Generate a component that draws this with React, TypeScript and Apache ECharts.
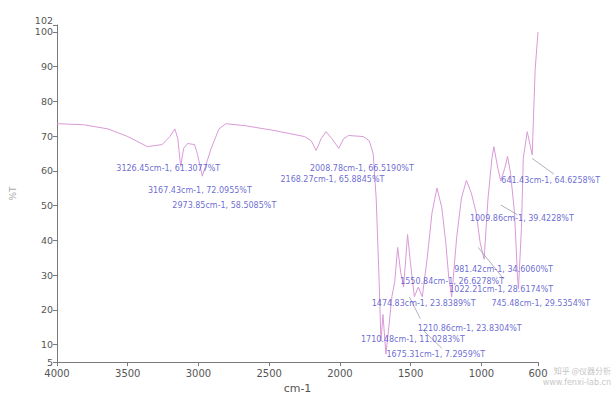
import { useEffect, useRef } from "react";
import * as echarts from "echarts";

// Spectrum (wavenumber cm-1, %T)
const wavenumbers = [
  4000, 3813, 3639, 3500, 3361, 3257, 3202, 3167, 3146, 3126, 3105, 3077, 3028, 3008, 2973, 2910,
  2855, 2806, 2667, 2459, 2251, 2203, 2168, 2133, 2098, 2057, 2008, 1974, 1939, 1835, 1793, 1765,
  1744, 1724, 1710, 1696, 1675, 1654, 1633, 1613, 1592, 1571, 1550, 1522, 1502, 1474, 1446, 1418,
  1384, 1349, 1314, 1280, 1252, 1231, 1210, 1175, 1141, 1106, 1071, 1037, 1009, 981, 953, 926,
  912, 884, 863, 835, 815, 794, 766, 745, 738, 717, 704, 676, 655, 641, 620, 600,
];
const transmittance = [
  73.6, 73.3, 72.1, 69.9, 67.0, 67.6, 69.9, 72.1, 69.3, 61.3, 66.5, 67.9, 67.6, 65.0, 58.5, 66.5,
  72.1, 73.6, 73.0, 71.6, 69.9, 68.7, 65.9, 69.3, 71.3, 69.3, 66.5, 69.3, 70.2, 69.9, 68.7, 65.0,
  52.2, 29.5, 11.0, 18.7, 7.3, 15.2, 23.8, 28.0, 38.0, 30.9, 26.6, 41.7, 33.7, 23.8, 26.6, 23.8,
  34.6, 48.0, 55.1, 49.4, 39.4, 29.5, 23.8, 40.8, 52.2, 57.3, 53.6, 48.0, 39.4, 34.6, 52.2, 63.6,
  67.0, 60.8, 57.1, 60.8, 64.2, 59.3, 48.0, 29.5, 26.1, 43.7, 63.6, 71.3, 67.3, 64.6, 89.2, 100.0,
];

const xTickValues = [4000, 3500, 3000, 2500, 2000, 1500, 1000, 600];
const yTickValues = [5, 10, 20, 30, 40, 50, 60, 70, 80, 90, 100, 102];

// Peak annotations: text, anchor (left edge) wavenumber, anchor %T
const peakTexts = [
  "3126.45cm-1, 61.3077%T",
  "3167.43cm-1, 72.0955%T",
  "2973.85cm-1, 58.5085%T",
  "2008.78cm-1, 66.5190%T",
  "2168.27cm-1, 65.8845%T",
  "641.43cm-1, 64.6258%T",
  "1009.86cm-1, 39.4228%T",
  "981.42cm-1, 34.6060%T",
  "1550.84cm-1, 26.6278%T",
  "1022.21cm-1, 28.6174%T",
  "1474.83cm-1, 23.8389%T",
  "745.48cm-1, 29.5354%T",
  "1210.86cm-1, 23.8304%T",
  "1710.48cm-1, 11.0283%T",
  "1675.31cm-1, 7.2959%T",
];
const peakLabelWn = [3584, 3361, 3188, 2216, 2424, 863, 1085, 1196, 1578, 1231, 1779, 933, 1453, 1855, 1675];
const peakLabelT = [60.8, 54.5, 50.2, 60.8, 57.6, 57.3, 46.3, 31.7, 28.3, 25.8, 21.8, 21.8, 14.7, 11.5, 7.3];

// Leader lines: from [wn, %T] to [wn, %T]
const leaderFromWn = [641, 863, 1023, 1509, 1418];
const leaderFromT = [63.6, 50.2, 38.0, 23.8, 14.4];
const leaderToWn = [488, 745, 842, 1432, 1280];
const leaderToT = [59.1, 47.4, 28.9, 17.5, 9.0];

export default function App() {
  const ref = useRef<HTMLDivElement>(null);

  useEffect(() => {
    if (!ref.current) return;
    const chart = echarts.init(ref.current, undefined, { renderer: "svg" });
    const axisColor = "#7a7a7a";
    const labelColor = "#555";
    chart.setOption({
      animation: false,
      backgroundColor: "#ffffff",
      grid: { left: 48, right: 75, top: 25, bottom: 33, containLabel: false },
      xAxis: {
        type: "value",
        inverse: true,
        min: 600,
        max: 4000,
        name: "cm-1",
        nameLocation: "middle",
        nameGap: 19,
        nameTextStyle: { fontSize: 11, color: labelColor, fontFamily: "DejaVu Sans" },
        axisLine: { show: true, lineStyle: { color: axisColor, width: 1 } },
        axisTick: { show: true, length: 4, lineStyle: { color: axisColor }, customValues: xTickValues },
        axisLabel: {
          customValues: xTickValues,
          fontSize: 10,
          color: labelColor,
          margin: 6,
          fontFamily: "DejaVu Sans",
          formatter: (v: number) => String(v),
        },
        splitLine: { show: false },
      },
      yAxis: {
        type: "value",
        min: 5,
        max: 102,
        name: "%T",
        nameLocation: "middle",
        nameGap: 40,
        nameRotate: 90,
        nameTextStyle: { fontSize: 9, color: "#aaa", fontFamily: "DejaVu Sans" },
        axisLine: { show: true, lineStyle: { color: axisColor, width: 1 } },
        axisTick: { show: true, length: 4, lineStyle: { color: axisColor }, customValues: yTickValues },
        axisLabel: {
          customValues: yTickValues,
          fontSize: 9.5,
          color: labelColor,
          margin: 4,
          fontFamily: "DejaVu Sans",
          formatter: (v: number) => (v === 102 ? "{top|102}" : String(v)),
          rich: { top: { fontSize: 9.5, color: labelColor, padding: [0, 0, 10, 0] } },
        },
        splitLine: { show: false },
      },
      series: [
        {
          type: "line",
          data: wavenumbers.map((w, i) => [w, transmittance[i]]),
          showSymbol: false,
          lineStyle: { color: "#d99ad6", width: 1 },
          silent: true,
          z: 2,
        },
        {
          type: "lines",
          coordinateSystem: "cartesian2d",
          clip: false,
          silent: true,
          lineStyle: { color: "#9c9cae", width: 0.8, opacity: 1 },
          data: leaderFromWn.map((w, i) => ({
            coords: [
              [w, leaderFromT[i]],
              [leaderToWn[i], leaderToT[i]],
            ],
          })),
          z: 3,
        },
        {
          type: "scatter",
          silent: true,
          symbolSize: 1,
          itemStyle: { color: "rgba(0,0,0,0)" },
          data: peakLabelWn.map((w, i) => [w, peakLabelT[i], peakTexts[i]]),
          label: {
            show: true,
            position: "right",
            distance: 0,
            formatter: (p: any) => p.data[2],
            fontSize: 8,
            color: "#4545c8",
            fontFamily: "DejaVu Sans",
          },
          z: 5,
        },
      ],
      graphic: [
        {
          type: "text",
          right: 2,
          top: 366,
          style: { text: "知乎 @仪器分析", fontSize: 8, fill: "#c4c4c4", fontFamily: "Noto Sans CJK SC" },
        },
        {
          type: "text",
          right: 2,
          top: 378,
          style: { text: "www.fenxi-lab.cn", fontSize: 8, fill: "#c8c8c8", fontFamily: "DejaVu Sans" },
        },
      ],
    });
    return () => chart.dispose();
  }, []);

  return (
    <div
      ref={ref}
      style={{ position: "fixed", left: 0, top: 0, width: 613, height: 399, background: "#fff" }}
    />
  );
}
